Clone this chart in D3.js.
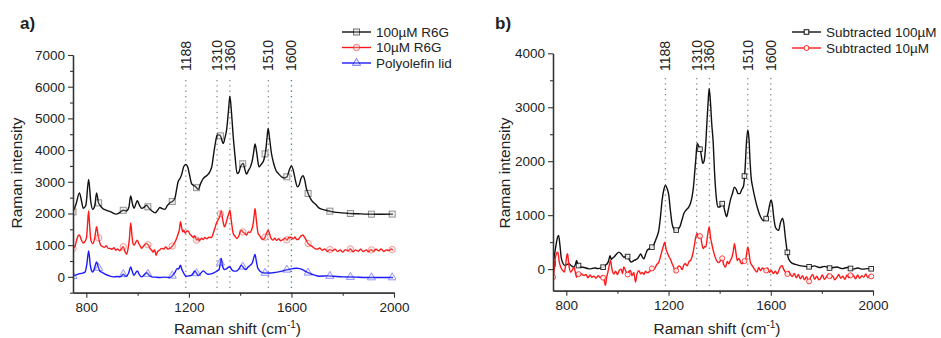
<!DOCTYPE html>
<html>
<head>
<meta charset="utf-8">
<script src="https://cdn.jsdelivr.net/npm/d3@7"></script>
<style>
  body { margin: 0; background: #fff; }
  svg text { font-family: Arial, "Liberation Sans", sans-serif; fill: #222; }
</style>
</head>
<body>
<svg id="chart" width="941" height="338"></svg>
<script>
// peak positions marked on both panels
var peaks = [1188, 1310, 1360, 1510, 1600];
var xTicks = [800, 1200, 1600, 2000];
var xMinor = [1000, 1400, 1800];
var yTicksA = [0, 1000, 2000, 3000, 4000, 5000, 6000, 7000];
var yTicksB = [0, 1000, 2000, 3000, 4000];
var markerX = [748, 848, 944, 1040, 1135, 1230, 1323, 1410, 1497, 1582, 1665, 1750, 1830, 1912, 1993];

// panel a) raw spectra [shift, intensity]
var r6g100 = [[748,2050],[760,2300],[773,2650],[781,2400],[788,2160],[798,2250],[809,3070],[817,2400],[825,2130],[833,2250],[840,2650],[847,2350],[853,2260],[865,2150],[879,2100],[895,2050],[918,1980],[930,2030],[944,2100],[957,2080],[966,2200],[973,2550],[980,2300],[986,2160],[993,2300],[999,2400],[1008,2250],[1016,2160],[1026,2200],[1035,2260],[1045,2160],[1056,2080],[1068,2020],[1078,2100],[1087,2190],[1096,2150],[1106,2130],[1116,2250],[1126,2340],[1136,2380],[1145,2470],[1152,2750],[1158,3000],[1165,3100],[1171,3210],[1180,3480],[1188,3550],[1196,3450],[1204,3160],[1210,2950],[1217,2890],[1226,2850],[1236,2760],[1246,2950],[1256,3100],[1270,3200],[1282,3320],[1290,3500],[1297,3900],[1304,4250],[1310,4470],[1317,4480],[1323,4450],[1334,4210],[1341,4400],[1347,4630],[1354,5200],[1360,5700],[1366,5200],[1373,4420],[1380,3800],[1388,3260],[1395,3300],[1401,3470],[1407,3550],[1412,3580],[1418,3400],[1425,3240],[1432,3350],[1440,3470],[1448,3700],[1452,3900],[1458,4190],[1464,3950],[1470,3600],[1474,3470],[1482,3550],[1492,3680],[1500,4000],[1505,4400],[1509,4680],[1515,4350],[1522,3900],[1530,3600],[1539,3370],[1550,3250],[1561,3160],[1572,3120],[1583,3160],[1592,3380],[1600,3500],[1606,3400],[1614,3100],[1623,2840],[1630,2900],[1638,3120],[1645,3190],[1652,3050],[1658,2800],[1665,2630],[1678,2420],[1695,2280],[1710,2160],[1735,2100],[1762,2050],[1795,2020],[1827,2000],[1860,1990],[1892,1980],[1940,1975],[1996,1980]];
var r6g10 = [[748,895],[755,950],[762,1150],[768,1300],[773,1320],[780,1180],[788,1070],[795,1120],[801,1250],[805,1700],[809,2080],[813,1600],[818,1150],[825,1050],[832,1200],[836,1400],[840,1580],[845,1350],[850,1150],[856,1000],[862,960],[870,930],[878,980],[885,900],[892,900],[900,870],[908,920],[915,840],[922,880],[931,820],[938,900],[944,950],[950,820],[957,715],[963,900],[968,1200],[973,1700],[978,1300],[982,1050],[986,1000],[992,1080],[999,1160],[1005,1040],[1010,980],[1016,900],[1022,960],[1028,1020],[1035,1050],[1042,1000],[1048,900],[1055,840],[1060,780],[1066,860],[1072,680],[1078,800],[1085,840],[1094,900],[1102,880],[1110,940],[1118,880],[1126,900],[1133,950],[1140,1020],[1146,1100],[1152,1210],[1158,1350],[1163,1500],[1167,1740],[1172,1550],[1176,1420],[1180,1470],[1186,1380],[1192,1450],[1197,1440],[1204,1350],[1210,1300],[1217,1240],[1222,1300],[1226,1250],[1230,1160],[1236,1200],[1240,1140],[1245,1180],[1250,1220],[1256,1180],[1262,1240],[1270,1200],[1278,1250],[1288,1240],[1296,1400],[1302,1550],[1307,1680],[1314,1800],[1320,1900],[1326,2080],[1332,1800],[1339,1580],[1345,1700],[1350,1850],[1356,2000],[1360,2100],[1365,1800],[1373,1370],[1380,1280],[1388,1210],[1395,1300],[1400,1420],[1405,1470],[1412,1400],[1418,1380],[1425,1320],[1432,1420],[1438,1400],[1444,1470],[1450,1650],[1454,1900],[1458,2160],[1463,1800],[1470,1370],[1476,1300],[1482,1220],[1489,1180],[1496,1230],[1502,1360],[1509,1470],[1515,1350],[1520,1220],[1528,1160],[1535,1220],[1542,1150],[1550,1200],[1558,1140],[1567,1180],[1575,1220],[1583,1160],[1590,1250],[1600,1240],[1607,1200],[1614,1260],[1620,1180],[1626,1180],[1634,1260],[1640,1300],[1645,1320],[1650,1260],[1658,1150],[1665,1050],[1672,1000],[1680,960],[1691,900],[1700,870],[1710,910],[1720,840],[1730,880],[1740,800],[1750,860],[1760,820],[1770,870],[1780,800],[1790,850],[1800,780],[1810,860],[1820,820],[1830,880],[1840,790],[1850,850],[1860,810],[1870,870],[1880,800],[1892,850],[1900,790],[1910,860],[1920,810],[1930,870],[1940,820],[1950,880],[1960,800],[1970,850],[1980,830],[1990,880],[1996,840]];
var lid = [[748,20],[760,60],[775,100],[785,120],[795,150],[802,400],[809,820],[815,400],[820,200],[825,150],[832,280],[840,470],[847,300],[853,180],[860,150],[875,80],[890,30],[905,0],[920,10],[931,0],[938,40],[944,80],[950,40],[957,20],[965,120],[973,310],[980,150],[986,50],[992,120],[999,190],[1006,80],[1016,0],[1025,60],[1035,130],[1045,50],[1055,0],[1070,-10],[1087,-20],[1105,-10],[1126,-20],[1136,40],[1145,130],[1154,260],[1160,250],[1167,370],[1172,250],[1177,160],[1184,60],[1190,20],[1200,30],[1210,50],[1217,120],[1223,190],[1230,110],[1236,50],[1245,100],[1256,190],[1265,130],[1275,80],[1290,100],[1305,160],[1312,200],[1318,230],[1322,400],[1326,580],[1331,350],[1339,230],[1346,250],[1353,300],[1360,320],[1366,240],[1373,190],[1380,180],[1388,190],[1396,260],[1405,370],[1412,300],[1422,230],[1430,300],[1440,370],[1448,450],[1453,600],[1458,710],[1463,500],[1468,300],[1474,210],[1480,160],[1489,130],[1500,120],[1515,120],[1528,130],[1545,150],[1567,190],[1585,230],[1606,260],[1620,270],[1632,260],[1650,200],[1665,130],[1685,70],[1710,20],[1740,30],[1762,20],[1800,0],[1850,-10],[1892,-20],[1940,-20],[1996,-20]];

// panel b) subtracted spectra
var sub100 = [[749,100],[755,300],[760,450],[765,580],[770,625],[775,450],[780,220],[786,120],[793,70],[800,80],[810,100],[820,60],[830,40],[836,90],[840,160],[845,90],[850,50],[856,40],[870,30],[885,10],[895,5],[910,20],[925,10],[940,30],[947,40],[955,80],[960,100],[966,160],[971,250],[976,180],[980,200],[986,220],[995,270],[1006,315],[1015,280],[1025,220],[1032,230],[1038,250],[1046,180],[1054,130],[1065,160],[1078,190],[1085,240],[1091,280],[1097,230],[1104,190],[1110,270],[1117,350],[1126,380],[1136,410],[1142,450],[1149,530],[1156,620],[1162,720],[1168,950],[1175,1280],[1182,1480],[1188,1550],[1194,1500],[1201,1370],[1207,1100],[1214,840],[1220,750],[1227,720],[1235,730],[1244,780],[1252,900],[1260,1030],[1270,1100],[1279,1150],[1286,1220],[1292,1340],[1297,1500],[1302,1770],[1307,2050],[1312,2330],[1318,2280],[1325,2200],[1330,2050],[1334,1960],[1339,2000],[1345,2270],[1350,2700],[1355,3100],[1359,3350],[1364,3100],[1369,2700],[1375,2330],[1380,1800],[1388,1280],[1394,1150],[1401,1150],[1408,1220],[1414,1200],[1420,1080],[1427,970],[1434,1100],[1442,1280],[1450,1400],[1458,1520],[1465,1480],[1472,1400],[1479,1400],[1487,1480],[1494,1550],[1500,1900],[1505,2350],[1510,2580],[1515,2400],[1519,2000],[1523,1710],[1530,1500],[1540,1280],[1550,1100],[1560,970],[1572,900],[1583,940],[1590,1050],[1596,1200],[1601,1280],[1606,1200],[1612,950],[1618,780],[1625,730],[1631,720],[1638,860],[1646,940],[1651,850],[1657,590],[1662,400],[1668,220],[1675,150],[1683,110],[1695,90],[1709,70],[1720,60],[1735,50],[1755,40],[1770,60],[1790,30],[1810,50],[1830,20],[1859,40],[1880,10],[1900,30],[1920,0],[1940,20],[1960,0],[1980,10],[1996,5]];
var sub10 = [[749,-150],[753,0],[757,200],[763,300],[767,315],[772,150],[778,40],[785,-20],[793,-55],[798,100],[802,250],[805,285],[810,80],[817,-55],[823,-20],[830,40],[835,-50],[840,-150],[846,-80],[852,-120],[860,-90],[869,-120],[877,-100],[885,-160],[893,-110],[900,-150],[908,-130],[916,-170],[925,-120],[933,-160],[940,-130],[947,-180],[953,-300],[958,-150],[963,-50],[967,40],[973,160],[978,20],[982,-60],[986,-90],[993,-40],[1000,-100],[1008,-20],[1015,0],[1020,-80],[1025,40],[1032,-30],[1040,-100],[1046,-40],[1051,-25],[1057,-120],[1064,-60],[1071,-240],[1077,-80],[1084,-30],[1091,-90],[1097,-60],[1104,-100],[1110,-40],[1117,-70],[1123,-55],[1130,-20],[1136,20],[1143,-10],[1149,40],[1155,90],[1162,130],[1168,220],[1175,350],[1180,430],[1185,500],[1190,380],[1197,285],[1203,220],[1209,170],[1214,100],[1220,40],[1227,-55],[1233,0],[1240,60],[1247,40],[1253,-10],[1260,80],[1266,100],[1273,60],[1280,140],[1286,160],[1292,230],[1297,330],[1302,470],[1307,600],[1312,660],[1318,580],[1325,625],[1330,480],[1336,380],[1341,420],[1346,410],[1352,600],[1359,780],[1364,600],[1372,410],[1380,260],[1388,160],[1395,120],[1404,160],[1410,200],[1416,80],[1423,40],[1430,140],[1436,100],[1442,160],[1448,220],[1454,350],[1458,470],[1463,330],[1469,160],[1476,200],[1482,120],[1488,100],[1494,140],[1501,160],[1506,300],[1510,410],[1515,300],[1520,130],[1528,60],[1536,0],[1546,-55],[1553,30],[1560,-30],[1567,20],[1572,5],[1580,-40],[1588,20],[1595,-60],[1602,-25],[1610,-80],[1618,-40],[1625,-90],[1632,-20],[1638,40],[1644,70],[1650,0],[1657,-55],[1664,-100],[1670,-40],[1676,-90],[1684,-140],[1692,-80],[1700,-160],[1708,-100],[1716,-180],[1724,-120],[1732,-200],[1740,-140],[1749,-240],[1756,-150],[1764,-100],[1772,-190],[1780,-130],[1788,-200],[1794,-180],[1802,-110],[1810,-190],[1818,-140],[1826,-90],[1834,-170],[1842,-120],[1850,-200],[1859,-150],[1866,-100],[1874,-170],[1882,-130],[1890,-190],[1898,-110],[1906,-160],[1914,-100],[1924,-120],[1932,-180],[1940,-110],[1948,-170],[1956,-120],[1964,-150],[1972,-90],[1980,-160],[1988,-110],[1996,-150]];

var svg = d3.select("#chart");
var bis = d3.bisector(function(d) { return d[0]; }).left;

function valueAt(s, x) {
    var i = bis(s, x);
    if (i <= 0) return s[0][1];
    if (i >= s.length) return s[s.length - 1][1];
    var a = s[i - 1], b = s[i];
    return a[1] + (b[1] - a[1]) * (x - a[0]) / (b[0] - a[0]);
}

function marker(g, shape, x, y, color, fill, op, sz) {
    if (shape == "square") {
        g.append("rect").attr("x", x - sz / 2).attr("y", y - sz / 2).attr("width", sz).attr("height", sz)
            .attr("fill", fill).attr("stroke", color).attr("stroke-width", 1).attr("opacity", op);
    } else if (shape == "circle") {
        g.append("circle").attr("cx", x).attr("cy", y).attr("r", sz / 2 + 0.2)
            .attr("fill", fill).attr("stroke", color).attr("stroke-width", 1).attr("opacity", op);
    } else {
        g.append("path").attr("d", d3.symbol(d3.symbolTriangle, sz * sz * 0.8)()).attr("transform", "translate(" + x + "," + y + ")")
            .attr("fill", fill).attr("stroke", color).attr("stroke-width", 1).attr("opacity", op);
    }
}

function panel(opt) {
    var g = svg.append("g");
    var x = d3.scaleLinear().domain([748, 2000]).range(opt.xr);
    var y = d3.scaleLinear().domain(opt.yd).range(opt.yr);
    var clip = "clip" + opt.id;
    g.append("clipPath").attr("id", clip).append("rect")
        .attr("x", opt.xr[0]).attr("y", opt.yr[1] - 10)
        .attr("width", opt.xr[1] - opt.xr[0] + 2).attr("height", opt.yr[0] - opt.yr[1] + 10);

    // peak guides
    peaks.forEach(function(p) {
        g.append("line").attr("x1", x(p)).attr("x2", x(p)).attr("y1", opt.peakTop).attr("y2", opt.yr[0])
            .attr("stroke", (opt.greenPeak && p == 1600) ? "#2e9e2e" : "#8a8a8a")
            .attr("stroke-width", 1.3).attr("stroke-dasharray", "1.3,4");
        g.append("text").attr("transform", "translate(" + (x(p) + 5) + "," + 71 + ") rotate(-90)")
            .attr("font-size", 14).attr("text-anchor", "start").text(p);
    });

    var line = d3.line().x(function(d) { return x(d[0]); }).y(function(d) { return y(d[1]); })
        .curve(d3.curveMonotoneX);
    var lines = g.append("g").attr("clip-path", "url(#" + clip + ")");
    opt.series.forEach(function(s) {
        lines.append("path").datum(s.data).attr("d", line).attr("fill", "none")
            .attr("stroke", s.color).attr("stroke-width", 1.4).attr("stroke-linejoin", "round");
        markerX.forEach(function(mx) {
            marker(lines, s.shape, x(mx), y(valueAt(s.data, mx)), s.color, opt.mFill, opt.mOp, opt.mSize);
        });
    });

    // axes
    var fmt = d3.format("d");
    g.append("g").attr("transform", "translate(0," + opt.yr[0] + ")")
        .call(d3.axisBottom(x).tickValues(xTicks).tickFormat(fmt).tickSize(5).tickPadding(5).tickSizeOuter(0));
    g.append("g").attr("transform", "translate(0," + opt.yr[0] + ")")
        .call(d3.axisBottom(x).tickValues(xMinor).tickSize(3).tickFormat("").tickSizeOuter(0));
    g.append("g").attr("transform", "translate(" + opt.xr[0] + ",0)")
        .call(d3.axisLeft(y).tickValues(opt.yTicks).tickFormat(fmt).tickSize(5).tickPadding(3).tickSizeOuter(0));
    g.append("g").attr("transform", "translate(" + opt.xr[0] + ",0)")
        .call(d3.axisLeft(y).tickValues(opt.yMinor).tickSize(3).tickFormat("").tickSizeOuter(0));
    g.selectAll(".domain").attr("stroke", "#333").attr("stroke-width", 1.3);
    g.selectAll(".tick line").attr("stroke", "#333").attr("stroke-width", 1.1);
    g.selectAll(".tick text").attr("font-size", 13.5).attr("fill", "#222");

    // titles
    g.append("text").attr("transform", "translate(" + opt.ytX + "," + 173 + ") rotate(-90)")
        .attr("text-anchor", "middle").attr("font-size", 15.5).text("Raman intensity");
    var xt = g.append("text").attr("x", (opt.xr[0] + opt.xr[1]) / 2 + 4).attr("y", 334)
        .attr("text-anchor", "middle").attr("font-size", 15.5);
    xt.append("tspan").text("Raman shift (cm");
    xt.append("tspan").attr("font-size", 10).attr("dy", -6).text("-1");
    xt.append("tspan").attr("dy", 6).text(")");
    g.append("text").attr("x", opt.tagX).attr("y", 29).attr("font-size", 17).attr("font-weight", "bold").text(opt.tag);

    // legend
    opt.series.forEach(function(s, i) {
        var ly = opt.legY[i];
        g.append("line").attr("x1", opt.legX).attr("x2", opt.legX + 29).attr("y1", ly).attr("y2", ly)
            .attr("stroke", s.color).attr("stroke-width", 1.4);
        marker(g, s.shape, opt.legX + 14.5, ly, s.color, opt.mFill, opt.legOp, opt.mSize);
        g.append("text").attr("x", opt.legX + 34).attr("y", ly).attr("dy", "0.36em")
            .attr("font-size", 13.5).text(s.name);
    });
}

panel({
    id: "a", tag: "a)", tagX: 20, xr: [73, 394], yd: [-500, 7000], yr: [292.7, 55],
    yTicks: yTicksA, yMinor: [-500, 500, 1500, 2500, 3500, 4500, 5500, 6500],
    peakTop: 80, greenPeak: true, ytX: 22, mFill: "rgba(200,200,200,0.5)", mOp: 0.45, legOp: 0.6, mSize: 6,
    legX: 342, legY: [32, 47.5, 63],
    series: [
        { name: "100\u00b5M R6G", data: r6g100, color: "#111", shape: "square" },
        { name: "10\u00b5M R6G", data: r6g10, color: "#ff1a1a", shape: "circle" },
        { name: "Polyolefin lid", data: lid, color: "#1a1aff", shape: "triangle" }
    ]
});

panel({
    id: "b", tag: "b)", tagX: 495, xr: [553, 873], yd: [-400, 4000], yr: [290.7, 53.3],
    yTicks: yTicksB, yMinor: [500, 1500, 2500, 3500],
    peakTop: 78, greenPeak: false, ytX: 510, mFill: "#fff", mOp: 0.85, legOp: 1, mSize: 4.6,
    legX: 792, legY: [32, 48],
    series: [
        { name: "Subtracted 100\u00b5M", data: sub100, color: "#111", shape: "square" },
        { name: "Subtracted 10\u00b5M", data: sub10, color: "#ff1a1a", shape: "circle" }
    ]
});
</script>
</body>
</html>
